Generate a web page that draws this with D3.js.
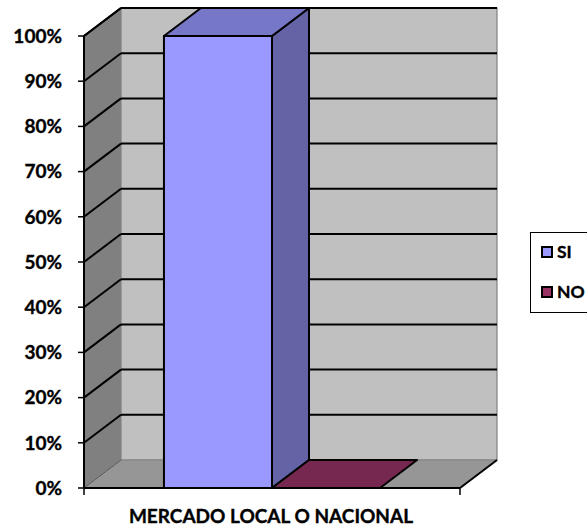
<!DOCTYPE html>
<html>
<head>
<meta charset="utf-8">
<script src="https://cdn.jsdelivr.net/npm/d3@7"></script>
<style>
  html, body { margin: 0; padding: 0; background: #fff; }
  svg { display: block; }
  text { font-family: Lato, "Open Sans", sans-serif; font-weight: bold; fill: #000;
         stroke: #000; stroke-width: 0.35px; }
</style>
</head>
<body>
<svg id="chart" width="587" height="529"></svg>
<script>
// Chart data
const category = "MERCADO LOCAL O NACIONAL";
const seriesNames = ["SI", "NO"];
const seriesValues = [1.0, 0.0];
const tickValues = [0, 0.1, 0.2, 0.3, 0.4, 0.5, 0.6, 0.7, 0.8, 0.9, 1.0];
const seriesColors = ["#9999FF", "#993366"];

const svg = d3.select("#chart");

// Front plane of the 3D box and its depth offset
const plot = { left: 84, right: 460, top: 36, bottom: 488 };
const depth = { dx: 37, dy: -28 };

const y = d3.scaleLinear().domain([0, 1]).range([plot.bottom, plot.top]);
const x = d3.scaleBand().domain(seriesNames).range([plot.left, plot.right])
  .paddingInner(0).paddingOuter(0.74);

const pts = arr => arr.map(p => p.join(",")).join(" ");
// darken a colour by scaling its RGB channels
const shade = (c, k) => { const r = d3.rgb(c); return d3.rgb(r.r * k, r.g * k, r.b * k).formatHex(); };

// Walls
const g = svg.append("g");
// back wall
g.append("polygon")
  .attr("points", pts([
    [plot.left + depth.dx, y(1) + depth.dy],
    [plot.right + depth.dx, y(1) + depth.dy],
    [plot.right + depth.dx, y(0) + depth.dy],
    [plot.left + depth.dx, y(0) + depth.dy]]))
  .attr("fill", "#C0C0C0").attr("stroke", "#808080").attr("stroke-width", 1.2);
// left wall
g.append("polygon")
  .attr("points", pts([
    [plot.left, y(1)], [plot.left + depth.dx, y(1) + depth.dy],
    [plot.left + depth.dx, y(0) + depth.dy], [plot.left, y(0)]]))
  .attr("fill", "#808080");
// floor
g.append("polygon")
  .attr("points", pts([
    [plot.left, y(0)], [plot.left + depth.dx, y(0) + depth.dy],
    [plot.right + depth.dx, y(0) + depth.dy], [plot.right, y(0)]]))
  .attr("fill", "#969696");
// floor/wall seams
g.append("line")
  .attr("x1", plot.left).attr("y1", y(0))
  .attr("x2", plot.left + depth.dx).attr("y2", y(0) + depth.dy)
  .attr("stroke", "#555").attr("stroke-width", 1);
g.append("line")
  .attr("x1", plot.left + depth.dx).attr("y1", y(0) + depth.dy)
  .attr("x2", plot.right + depth.dx).attr("y2", y(0) + depth.dy)
  .attr("stroke", "#808080").attr("stroke-width", 1);

// Gridlines on back wall and left wall (skip 0)
const grid = tickValues.filter(v => v > 0);
g.selectAll("line.gback").data(grid).join("line")
  .attr("class", "gback")
  .attr("x1", plot.left + depth.dx).attr("x2", plot.right + depth.dx)
  .attr("y1", d => y(d) + depth.dy).attr("y2", d => y(d) + depth.dy)
  .attr("stroke", "#000").attr("stroke-width", 2);
g.selectAll("line.gleft").data(grid).join("line")
  .attr("class", "gleft")
  .attr("x1", plot.left).attr("y1", d => y(d))
  .attr("x2", plot.left + depth.dx).attr("y2", d => y(d) + depth.dy)
  .attr("stroke", "#000").attr("stroke-width", 2);

// Right edge of the floor
g.append("line")
  .attr("x1", plot.right).attr("y1", y(0))
  .attr("x2", plot.right + depth.dx).attr("y2", y(0) + depth.dy)
  .attr("stroke", "#000").attr("stroke-width", 2);

// Bars (front, side and top faces)
const bars = svg.append("g");
seriesNames.forEach((name, i) => {
  const v = seriesValues[i];
  const x0 = x(name), x1 = x(name) + x.bandwidth();
  const yt = y(v), yb = y(0);
  const c = seriesColors[i];
  const bg = bars.append("g").attr("stroke", "#000").attr("stroke-width", 2)
    .attr("stroke-linejoin", "round");
  if (yb - yt > 0.5) {
    bg.append("polygon").attr("points", pts([[x0, yt], [x1, yt], [x1, yb], [x0, yb]]))
      .attr("fill", c);
    bg.append("polygon").attr("points", pts([
      [x1, yt], [x1 + depth.dx, yt + depth.dy], [x1 + depth.dx, yb + depth.dy], [x1, yb]]))
      .attr("fill", shade(c, 0.65));
  }
  bg.append("polygon").attr("points", pts([
    [x0, yt], [x0 + depth.dx, yt + depth.dy], [x1 + depth.dx, yt + depth.dy], [x1, yt]]))
    .attr("fill", shade(c, 0.78));
});

// Axes: left edge, ticks and labels
const ax = svg.append("g");
ax.append("line").attr("x1", plot.left).attr("x2", plot.left)
  .attr("y1", y(1)).attr("y2", y(0)).attr("stroke", "#000").attr("stroke-width", 2);
ax.append("line").attr("x1", plot.left).attr("y1", y(1))
  .attr("x2", plot.left + depth.dx).attr("y2", y(1) + depth.dy)
  .attr("stroke", "#000").attr("stroke-width", 2);
ax.append("line").attr("x1", plot.left).attr("x2", plot.right)
  .attr("y1", y(0)).attr("y2", y(0)).attr("stroke", "#000").attr("stroke-width", 2);
ax.selectAll("line.tick").data(tickValues).join("line")
  .attr("class", "tick")
  .attr("x1", plot.left - 6).attr("x2", plot.left)
  .attr("y1", d => y(d)).attr("y2", d => y(d))
  .attr("stroke", "#000").attr("stroke-width", 1.5);
[plot.left, plot.right].forEach(px => {
  ax.append("line").attr("x1", px).attr("x2", px)
    .attr("y1", y(0)).attr("y2", y(0) + 7).attr("stroke", "#000").attr("stroke-width", 1.5);
});
ax.selectAll("text.ylab").data(tickValues).join("text")
  .attr("class", "ylab")
  .attr("x", 62).attr("y", d => y(d))
  .attr("dy", "0.36em").attr("text-anchor", "end")
  .style("font-size", "19px")
  .text(d3.format(".0%"));

ax.append("text")
  .attr("x", (plot.left + plot.right) / 2 - 1).attr("y", 523)
  .attr("text-anchor", "middle").style("font-size", "19px")
  .text(category);

// Legend
const lg = svg.append("g");
lg.append("rect").attr("x", 530.5).attr("y", 232.5).attr("width", 70).attr("height", 80)
  .attr("fill", "#fff").attr("stroke", "#000").attr("stroke-width", 1);
seriesNames.forEach((name, i) => {
  const yy = 247 + i * 40;
  lg.append("rect").attr("x", 542).attr("y", yy).attr("width", 10).attr("height", 10)
    .attr("fill", seriesColors[i]).attr("stroke", "#000").attr("stroke-width", 2);
  lg.append("text").attr("x", 557).attr("y", yy + 5).attr("dy", "0.36em")
    .style("font-size", "17.5px").text(name);
});
</script>
</body>
</html>
